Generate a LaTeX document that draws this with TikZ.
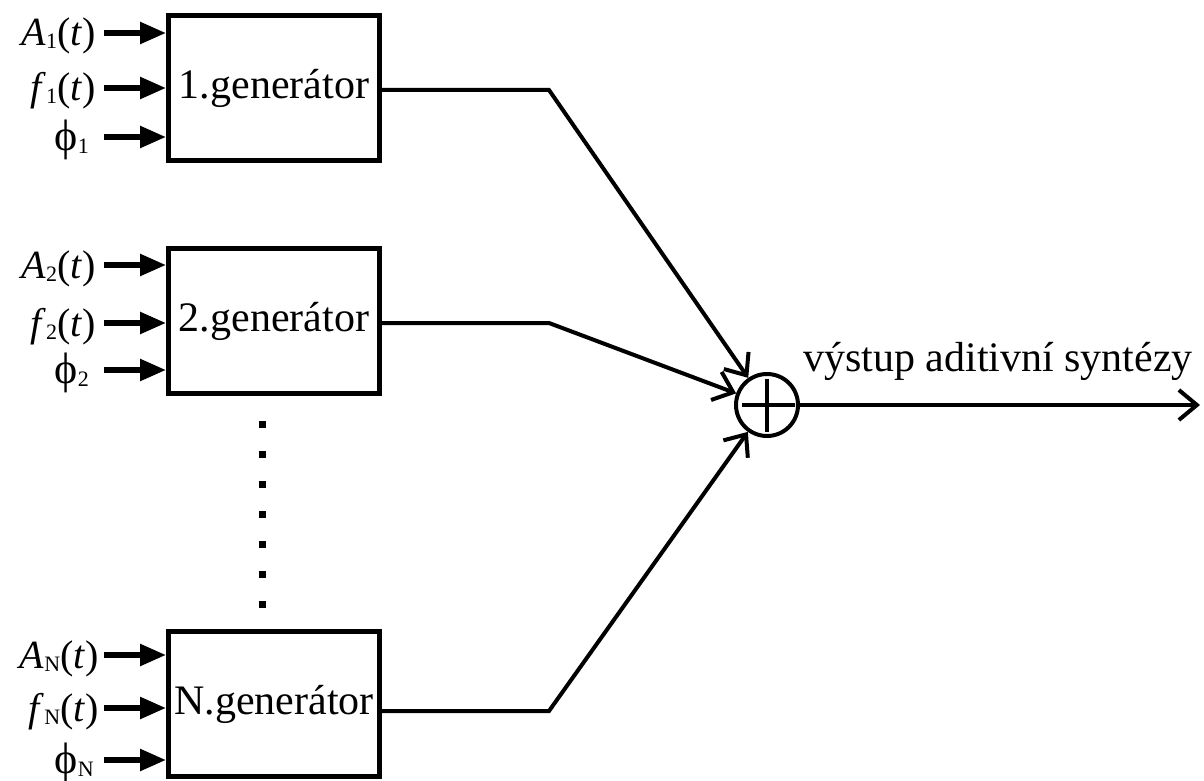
\documentclass[tikz,border=0pt]{standalone}
\usepackage{fontspec}
\setmainfont{Liberation Serif}
\usetikzlibrary{arrows.meta}
\newcommand{\sbs}[1]{\raisebox{-3pt}{\fontsize{22}{22}\selectfont #1}}
\newcommand{\phisym}{{\fontsize{44}{48}\selectfont ϕ}}
\begin{document}
\begin{tikzpicture}[x=1pt,y=-1pt,
  genbox/.style={draw,line width=5pt,minimum width=211pt,minimum height=145pt,inner sep=0pt,font=\fontsize{42}{50}\selectfont},
  inlabel/.style={anchor=base east,inner sep=0pt,font=\fontsize{40}{48}\selectfont},
  inarrow/.style={line width=5.5pt,-{Triangle[length=26pt,width=21pt]}},
  conn/.style={line width=4pt,line join=miter},
  sumarrow/.style={conn,-{Straight Barb[length=18pt,width=30pt]}}]
\useasboundingbox (0,0) rectangle (1204,781);

% generators
\node[genbox] (g1) at (274,88) {1.generátor};
\node[genbox] (g2) at (274,321) {2.generátor};
\node[genbox] (gN) at (274,704) {N.generátor};

% summation node
\node[draw,circle,line width=4pt,minimum size=62pt,inner sep=0pt] (sum) at (767,405) {};
\draw[line width=4.5pt] ([xshift=-25pt]sum.center) -- ([xshift=28pt]sum.center);
\draw[line width=4.5pt] ([yshift=26pt]sum.center) -- ([yshift=-27pt]sum.center);

% inputs of generator 1
\coordinate (a1) at (104,33);
\coordinate (f1) at (104,88);
\coordinate (p1) at (104,137);
\node[inlabel] (la1) at (96,46) {\textit{A}\sbs{1}(\textit{t})};
\node[inlabel] (lf1) at (96,101) {\textit{f}\sbs{1}(\textit{t})};
\node[inlabel] (lp1) at (89,150) {\phisym\sbs{1}};
\draw[inarrow] (a1) -- (a1 -| g1.west);
\draw[inarrow] (f1) -- (f1 -| g1.west);
\draw[inarrow] (p1) -- (p1 -| g1.west);

% inputs of generator 2
\coordinate (a2) at (104,265);
\coordinate (f2) at (104,323);
\coordinate (p2) at (104,370);
\node[inlabel] (la2) at (96,278) {\textit{A}\sbs{2}(\textit{t})};
\node[inlabel] (lf2) at (96,336) {\textit{f}\sbs{2}(\textit{t})};
\node[inlabel] (lp2) at (89,383) {\phisym\sbs{2}};
\draw[inarrow] (a2) -- (a2 -| g2.west);
\draw[inarrow] (f2) -- (f2 -| g2.west);
\draw[inarrow] (p2) -- (p2 -| g2.west);

% inputs of generator N
\coordinate (aN) at (104,655);
\coordinate (fN) at (104,708);
\coordinate (pN) at (104,760);
\node[inlabel] (laN) at (99,668) {\textit{A}\sbs{N}(\textit{t})};
\node[inlabel] (lfN) at (99,721) {\textit{f}\sbs{N}(\textit{t})};
\node[inlabel] (lpN) at (94,773) {\phisym\sbs{N}};
\draw[inarrow] (aN) -- (aN -| gN.west);
\draw[inarrow] (fN) -- (fN -| gN.west);
\draw[inarrow] (pN) -- (pN -| gN.west);

% vertical dots
\foreach \yy in {424,454,484,514,544,574,604}
  \fill (259,\yy-3.5) rectangle (266,\yy+3.5);

% outputs to the sum
\coordinate (k1) at (549,90);
\coordinate (k2) at (549,323);
\coordinate (kN) at (549,711);
\draw[sumarrow] (g1.east |- k1) -- (k1) -- (sum);
\draw[sumarrow] (g2.east |- k2) -- (k2) -- (sum);
\draw[sumarrow] (gN.east |- kN) -- (kN) -- (sum);

% output
\coordinate (out) at (1200,405);
\draw[sumarrow] (sum) -- (out);
\node[anchor=base west,inner sep=0pt,font=\fontsize{42}{50}\selectfont] (outlab) at (803,371) {výstup aditivní syntézy};
\end{tikzpicture}
\end{document}
